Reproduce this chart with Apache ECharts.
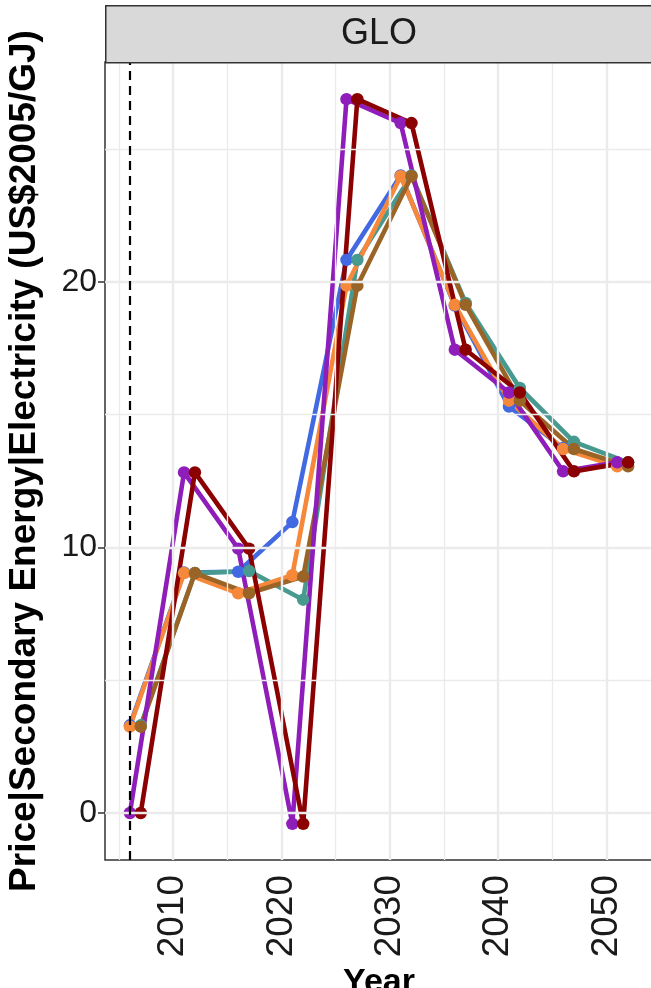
<!DOCTYPE html>
<html>
<head>
<meta charset="utf-8">
<script src="https://cdn.jsdelivr.net/npm/echarts@6/dist/echarts.min.js"></script>
<style>html,body{margin:0;padding:0;background:#fff;}#c{width:651px;height:988px;}</style>
</head>
<body>
<div id="c"></div>
<script>
// x positions (years, dodged groups)
const yearsA = [2006, 2011, 2016, 2021, 2026, 2031, 2036, 2041, 2046, 2051];
const yearsB = [2007, 2012, 2017, 2022, 2027, 2032, 2037, 2042, 2047, 2052];

// series values
const purpleVals  = [0, 12.82, 9.95, -0.41, 26.87, 25.97, 17.44, 15.83, 12.86, 13.2];
const darkredVals = [0, 12.82, 9.95, -0.41, 26.87, 25.97, 17.44, 15.83, 12.86, 13.2];
const orangeVals  = [3.25, 9.03, 8.27, 8.95, 19.85, 23.97, 19.13, 15.52, 13.70, 13.05];
const brownVals   = [3.25, 9.03, 8.27, 8.90, 19.85, 23.97, 19.13, 15.52, 13.70, 13.05];
const blueVals    = [3.3, 9.05, 9.08, 10.95, 20.82, 24.0, 19.1, 15.3, 13.74, 13.1];
const tealVals    = [3.3, 9.03, 9.11, 8.03, 20.82, 24.0, 19.2, 16.0, 13.97, 13.2];

// tick labels / grid positions
const xTicks = [2010, 2020, 2030, 2040, 2050];
const xMinor = [2005, 2015, 2025, 2035, 2045];
const yTicks = [0, 10, 20];
const yMinor = [5, 15, 25];
const refYear = 2006;
const panelTitle = 'GLO';

const seriesDefs = [
  {name: 'blue',    color: '#4169E1', xs: yearsA, ys: blueVals},
  {name: 'teal',    color: '#48998F', xs: yearsB, ys: tealVals},
  {name: 'orange',  color: '#F5883A', xs: yearsA, ys: orangeVals},
  {name: 'brown',   color: '#9B6427', xs: yearsB, ys: brownVals},
  {name: 'purple',  color: '#8F1DBA', xs: yearsA, ys: purpleVals},
  {name: 'darkred', color: '#8B0000', xs: yearsB, ys: darkredVals}
];

const pairs = d => d.xs.map((x, i) => [x, d.ys[i]]);

const gridLineSeries = {
  type: 'line', name: 'grid', z: 1, silent: true,
  data: [[yearsA[0], purpleVals[0]]], symbol: 'none',
  lineStyle: {opacity: 0},
  markLine: {
    silent: true, symbol: 'none', animation: false,
    label: {show: false},
    data: [
      ...xMinor.map(v => ({xAxis: v, lineStyle: {color: '#EBEBEB', width: 1.3, type: 'solid'}})),
      ...yMinor.map(v => ({yAxis: v, lineStyle: {color: '#EBEBEB', width: 1.3, type: 'solid'}})),
      ...xTicks.map(v => ({xAxis: v, lineStyle: {color: '#EBEBEB', width: 2.4, type: 'solid'}})),
      ...yTicks.map(v => ({yAxis: v, lineStyle: {color: '#EBEBEB', width: 2.4, type: 'solid'}}))
    ]
  }
};

const refSeries = {
  type: 'line', name: 'ref', z: 2, silent: true,
  data: [[yearsA[0], purpleVals[0]]], symbol: 'none',
  lineStyle: {opacity: 0},
  markLine: {
    silent: true, symbol: 'none', animation: false,
    label: {show: false},
    data: [{xAxis: refYear}],
    lineStyle: {color: '#000', width: 2.2, type: [9, 6]}
  }
};

const lineSeries = seriesDefs.map(d => ({
  type: 'line', name: d.name, z: 3, data: pairs(d),
  showSymbol: false, symbol: 'none',
  lineStyle: {color: d.color, width: 4.6},
  itemStyle: {color: d.color}
}));

const pointSeries = seriesDefs.map(d => ({
  type: 'scatter', name: d.name + '_pts', z: 4, data: pairs(d),
  symbol: 'circle', symbolSize: 12.5,
  itemStyle: {color: d.color, opacity: 1}
}));

const chart = echarts.init(document.getElementById('c'), null, {renderer: 'canvas'});
chart.setOption({
  animation: false,
  backgroundColor: '#fff',
  grid: {left: 105, top: 62, width: 548, height: 798, show: true,
         containLabel: false, outerBoundsMode: 'none',
         borderColor: '#333', borderWidth: 1.5, backgroundColor: 'transparent'},
  xAxis: {
    type: 'value', min: 2003.7, max: 2054.3,
    name: 'Year', nameLocation: 'middle', nameGap: 103,
    nameTextStyle: {fontSize: 34, fontWeight: 'bold', color: '#000', fontFamily: 'Liberation Sans'},
    axisLine: {show: false},
    axisTick: {show: true, customValues: xTicks, length: 7, lineStyle: {color: '#333', width: 1.5}},
    axisLabel: {customValues: xTicks, rotate: 90, fontSize: 37, margin: 15, color: '#1a1a1a',
                fontFamily: 'Liberation Sans', formatter: v => String(v)},
    splitLine: {show: false}
  },
  yAxis: {
    type: 'value', min: -1.77, max: 28.27,
    name: 'Price|Secondary Energy|Electricity (US$2005/GJ)', nameLocation: 'middle', nameGap: 62,
    nameTextStyle: {fontSize: 37, fontWeight: 'bold', color: '#000', fontFamily: 'Liberation Sans'},
    axisLine: {show: false},
    axisTick: {show: true, customValues: yTicks, length: 7, lineStyle: {color: '#333', width: 1.5}},
    axisLabel: {customValues: yTicks, fontSize: 32, margin: 8, color: '#1a1a1a',
                fontFamily: 'Liberation Sans', formatter: v => String(v)},
    splitLine: {show: false}
  },
  graphic: [
    {type: 'rect', left: 105, top: 5, z: 10,
     shape: {width: 560, height: 57},
     style: {fill: '#D9D9D9', stroke: '#333', lineWidth: 1.5}},
    {type: 'text', x: 379, y: 34, z: 11,
     style: {text: panelTitle, fontSize: 36, fontFamily: 'Liberation Sans', fill: '#1a1a1a',
             textAlign: 'center', textVerticalAlign: 'middle'}}
  ],
  series: [gridLineSeries, refSeries, ...lineSeries, ...pointSeries]
});
</script>
</body>
</html>
